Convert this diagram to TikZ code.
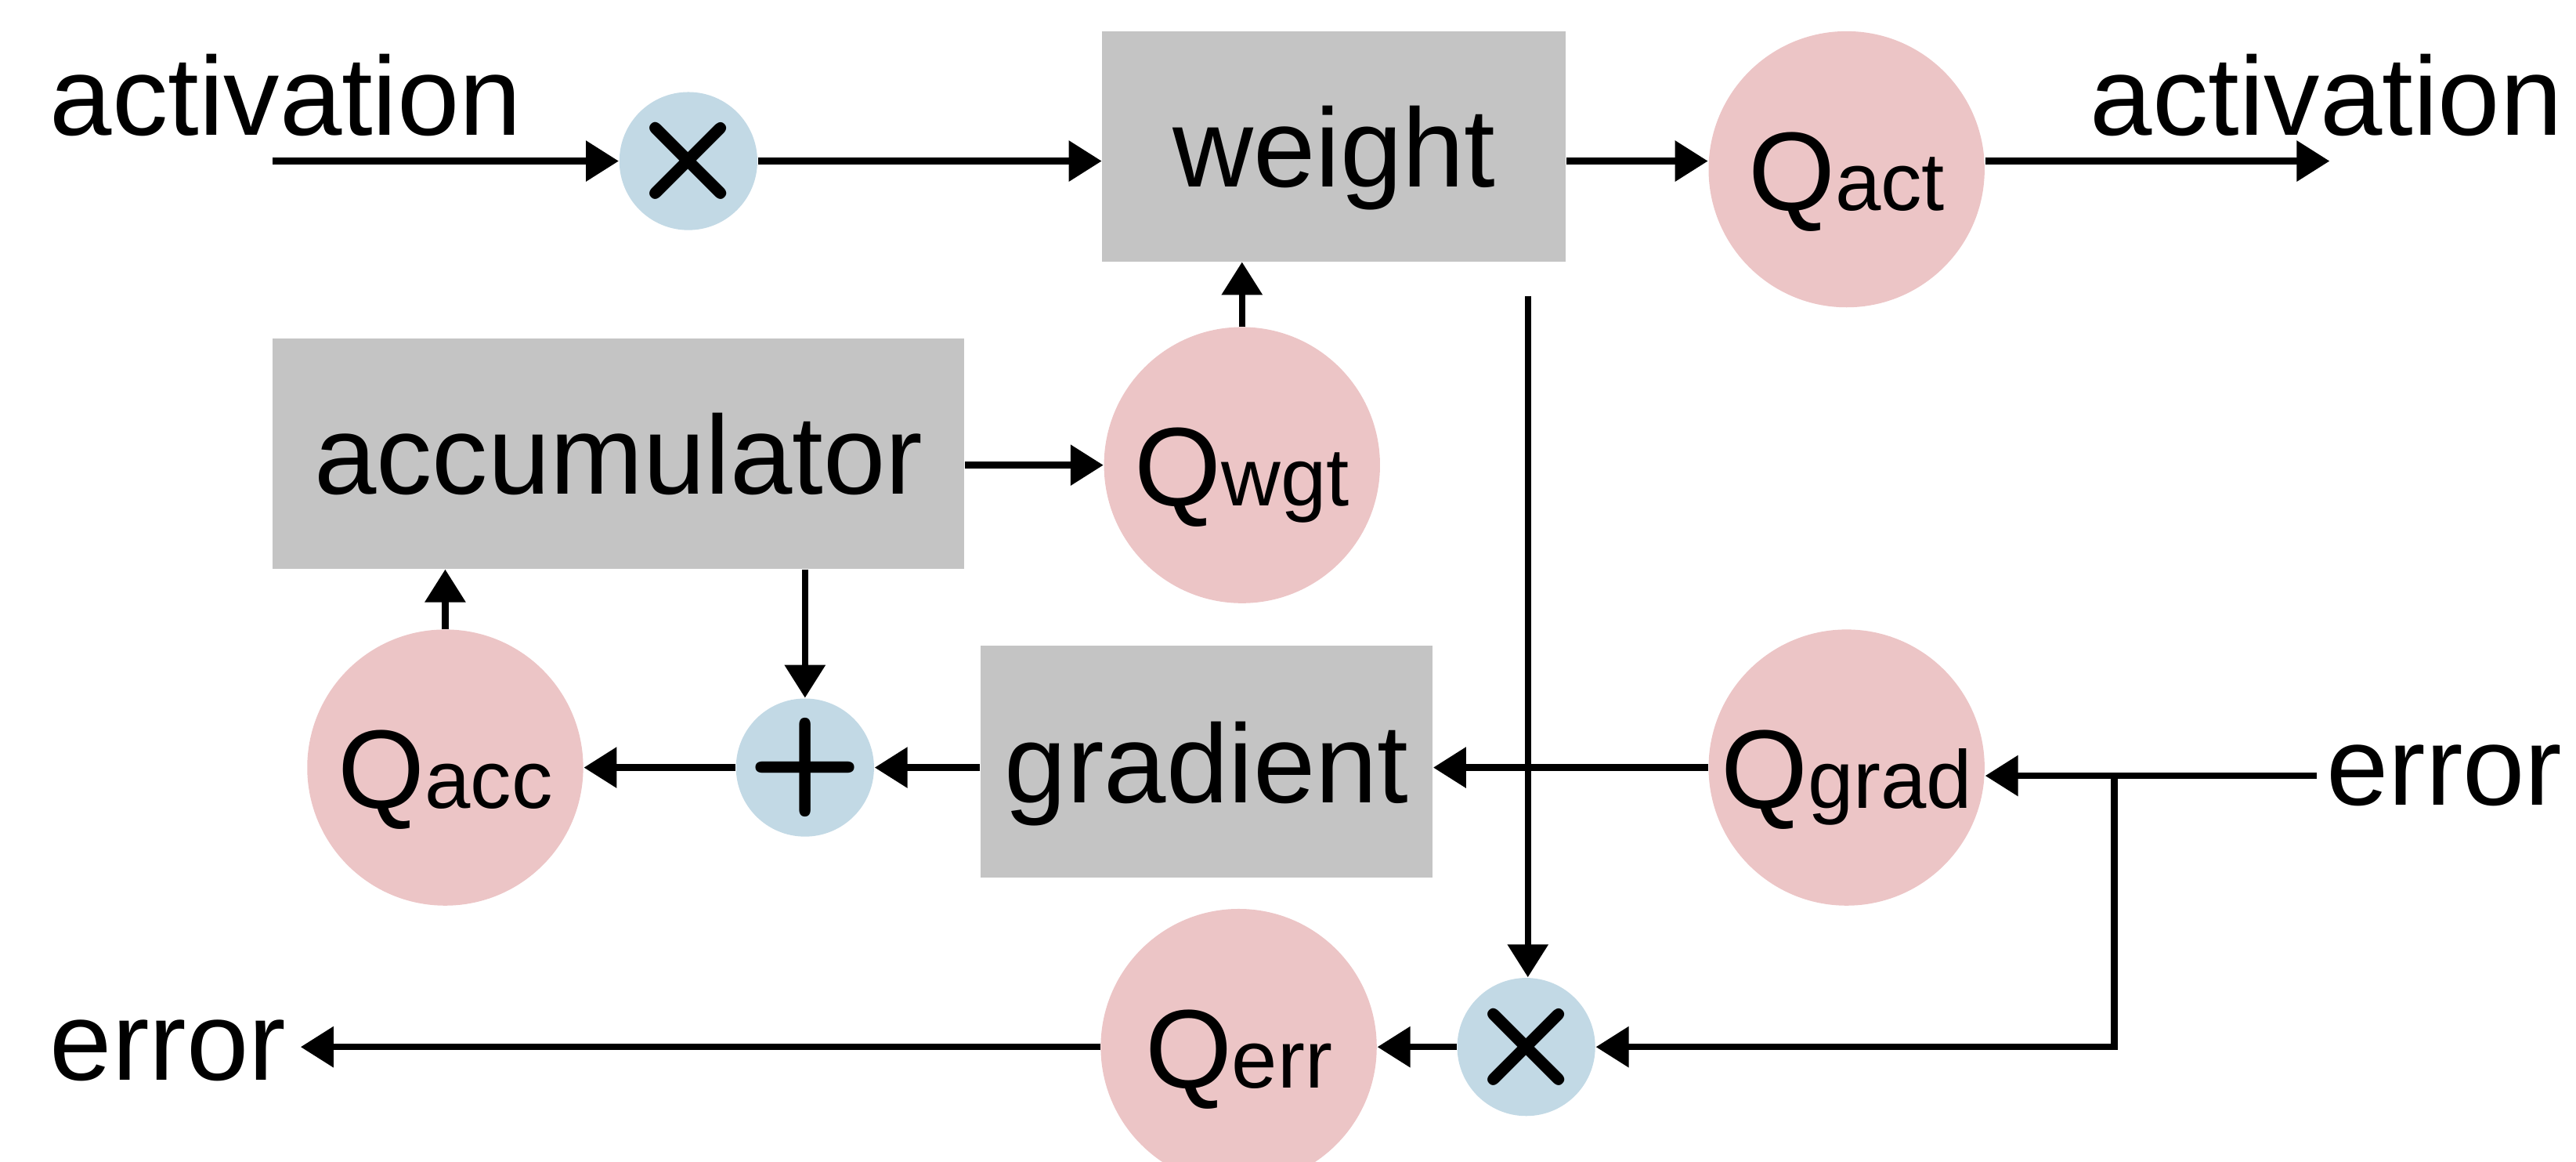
\documentclass[tikz,border=0pt]{standalone}
\usepackage{fontspec}
\setmainfont{Liberation Sans}
\usetikzlibrary{arrows.meta,calc}
\definecolor{boxgrey}{HTML}{C4C4C4}
\definecolor{qpink}{HTML}{ECC5C6}
\definecolor{opblue}{HTML}{C2D9E5}
\newcommand\qsub[1]{{\fontsize{25}{25}\selectfont #1}}
\begin{document}
\begin{tikzpicture}[x=0.5pt, y=-0.5pt, font=\fontsize{34}{40}\selectfont,
  arr/.style={line width=2pt, -{Triangle[length=10pt,width=12pt]}},
  box/.style={fill=boxgrey, inner sep=0pt, text height=24.8pt, text depth=0pt},
  qc/.style={circle, fill=qpink, minimum size=84pt, inner sep=0pt, text height=24.8pt, text depth=0pt},
  opc/.style={circle, fill=opblue, minimum size=42pt, inner sep=0pt},
  mulsym/.style={inner sep=0pt, font=\sffamily\bfseries\fontsize{43}{43}\selectfont},
  plussym/.style={inner sep=0pt, font=\sffamily\bfseries\fontsize{41}{41}\selectfont},
  lblw/.style={inner sep=0pt, anchor=base west},
  lble/.style={inner sep=0pt, anchor=base east}]
\useasboundingbox (0,0) rectangle (1568,707);
\clip (0,0) rectangle (1568,707);
% labels
\node[lblw] (actin) at (30,82) {activation};
\node[lble] (actout) at (1560,82) {activation};
\node[lble] (errin) at (1560,490) {error};
\node[lblw] (errout) at (30,657) {error};
% operators
\node[opc] (mul1) at (419,98) {};
\node[mulsym] (mul1s) at (mul1) {×};
\node[opc] (mul2) at (929,637) {};
\node[mulsym] (mul2s) at (mul2) {×};
\node[opc] (plus) at (490,467) {};
\node[plussym] (pluss) at (plus) {+};
% boxes
\node[box, minimum width=141pt, minimum height=70pt] (weight) at (812,89) {weight};
\node[box, minimum width=210.5pt, minimum height=70pt] (acc) at (376.5,276) {accumulator};
\node[box, minimum width=137.5pt, minimum height=70.5pt] (grad) at (734.5,463.5) {gradient};
% quantizers
\node[qc] (qact) at (1124,103) {Q\qsub{act}};
\node[qc] (qwgt) at (756,283) {Q\qsub{wgt}};
\node[qc] (qacc) at (271,467) {Q\qsub{acc}};
\node[qc] (qgrad) at (1124,467) {Q\qsub{grad}};
\node[qc] (qerr) at (754,637) {Q\qsub{err}};
% free ends
\coordinate (ain) at (166,98);
\coordinate (aout) at (1418,98);
\coordinate (wdown) at (930,180);
\coordinate (ein) at (1410,472);
\coordinate (br) at (1287,472);
\coordinate (eout) at (183,637);
% forward path
\draw[arr] (ain) -- (mul1.west);
\draw[arr] (mul1.east) -- (mul1.east -| weight.west);
\draw[arr] (weight.east |- mul1) -- (qact.west |- mul1);
\draw[arr] (qact.east |- mul1) -- (aout);
% weight update
\draw[arr] (qwgt.north) -- (qwgt.north |- weight.south);
\draw[arr] (acc.east |- qwgt) -- (qwgt.west);
\draw[arr] (plus.north |- acc.south) -- (plus.north);
\draw[arr] (qacc.north) -- (qacc.north |- acc.south);
\draw[arr] (plus.west) -- (qacc.east);
\draw[arr] (grad.west |- plus) -- (plus.east);
\draw[arr] (qgrad.west) -- (qgrad.west -| grad.east);
% error path
\draw[arr] (ein) -- (ein -| qgrad.east);
\draw[arr] (br) |- (mul2.east);
\draw[arr] (wdown) -- (wdown |- mul2.north);
\draw[arr] (mul2.west) -- (qerr.east);
\draw[arr] (qerr.west) -- (eout);
\end{tikzpicture}
\end{document}
